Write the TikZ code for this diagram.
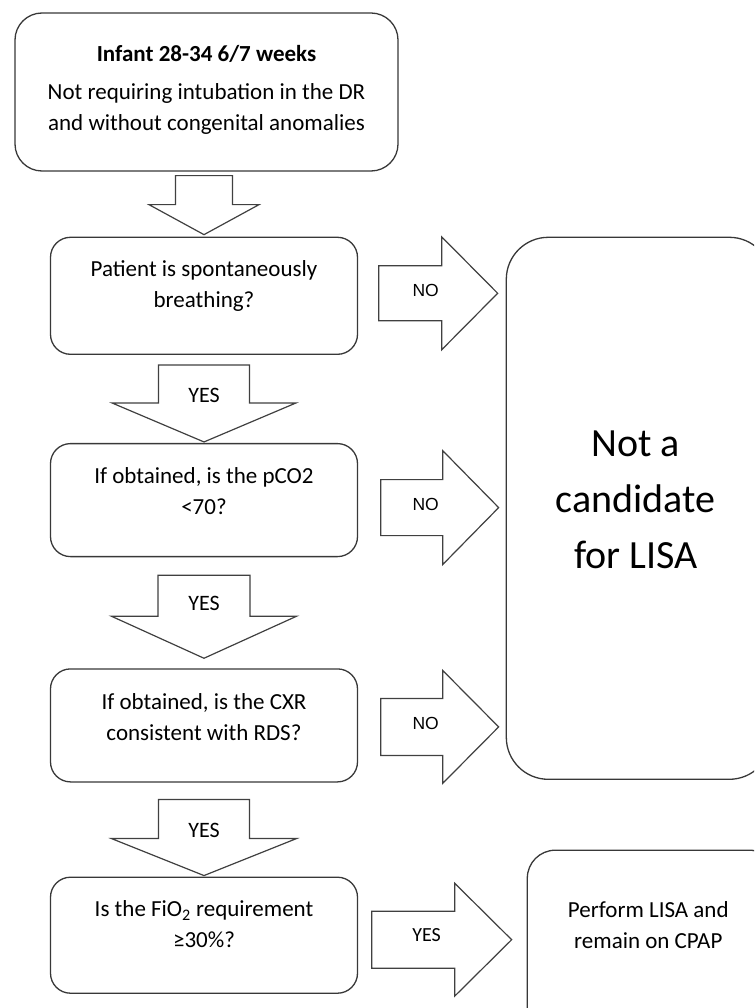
\documentclass[tikz,border=0pt]{standalone}
\usepackage{fontspec}
\setmainfont{Carlito}
\newfontfamily\arialfont{Liberation Sans}
\usetikzlibrary{positioning,calc}

\tikzstyle{startbox} = [rectangle, draw = black!78, rounded corners=27pt, minimum width=383pt, minimum height=158pt, line width=1.3pt]
\tikzstyle{querybox} = [rectangle, draw = black!78, rounded corners=20pt, minimum width=307pt, line width=1.3pt]
\tikzstyle{resultbox} = [rectangle, draw = black!78, rounded corners=42pt, line width=1.3pt]
\tikzstyle{boxtext} = [inner sep=0pt, align=center, font=\fontsize{23}{31}\selectfont]
\tikzstyle{bigtext} = [inner sep=0pt, align=center, font=\fontsize{40}{56}\selectfont]
\tikzstyle{notext} = [inner sep=0pt, font=\arialfont\fontsize{17.5}{20}\selectfont]
\tikzstyle{yestext} = [inner sep=0pt, font=\fontsize{22}{24}\selectfont]
\tikzstyle{blockarrow} = [draw = black!75, line width=1.2pt, fill=white, line join=miter]

% down block arrow: from, to, top gap, tip gap, shaft half, head half, head length
\newcommand{\downblock}[7]{%
  \draw[blockarrow] let \p1 = (#1.south), \p2 = (#2.north) in
    ({\x2-#5pt}, {\y1-#3pt}) -- ({\x2+#5pt}, {\y1-#3pt})
    -- ({\x2+#5pt}, {\y2+#4pt+#7pt}) -- ({\x2+#6pt}, {\y2+#4pt+#7pt})
    -- (\x2, {\y2+#4pt}) -- ({\x2-#6pt}, {\y2+#4pt+#7pt})
    -- ({\x2-#5pt}, {\y2+#4pt+#7pt}) -- cycle;}

% right block arrow: from, to, left gap, tip gap, dy, shaft half, head half, head length
\newcommand{\rightblock}[8]{%
  \draw[blockarrow] let \p1 = (#1.east), \p2 = (#2.west) in
    ({\x1+#3pt}, {\y1+(#5pt)+#6pt}) -- ({\x2-#4pt-#8pt}, {\y1+(#5pt)+#6pt})
    -- ({\x2-#4pt-#8pt}, {\y1+(#5pt)+#7pt}) -- ({\x2-#4pt}, {\y1+(#5pt)})
    -- ({\x2-#4pt-#8pt}, {\y1+(#5pt)-#7pt}) -- ({\x2-#4pt-#8pt}, {\y1+(#5pt)-#6pt})
    -- ({\x1+#3pt}, {\y1+(#5pt)-#6pt}) -- cycle;}

\begin{document}
\begin{tikzpicture}[x=1pt, y=1pt]
		\useasboundingbox (0,0) rectangle (754,-1008);
		\clip (0,0) rectangle (754,-1008);
		
		\node (start) [startbox] at (206.5,-92) {};
		\node (startText) [boxtext, below=33pt of start.north] {\textbf{Infant 28-34 6/7 weeks}\\[7pt]Not requiring intubation in the DR\\and without congenital anomalies};
		
		\node (q1) [querybox, minimum height=117pt, below=65pt of start, xshift=-2.5pt] {};
		\node (q1Text) [boxtext, below=24pt of q1.north] {Patient is spontaneously\\breathing?};
		
		\node (q2) [querybox, minimum height=113pt, below=88pt of q1] {};
		\node (q2Text) [boxtext, below=24pt of q2.north] {If obtained, is the pCO2\\<70?};
		
		\node (q3) [querybox, minimum height=113pt, below=111pt of q2] {};
		\node (q3Text) [boxtext, below=25pt of q3.north] {If obtained, is the CXR\\consistent with RDS?};
		
		\node (q4) [querybox, minimum height=116pt, below=94pt of q3] {};
		\node (q4Text) [boxtext, below=24pt of q4.north] {Is the FiO\textsubscript{2} requirement\\≥30\%?};
		
		\node (nocand) [resultbox, minimum width=265pt, minimum height=542pt, below right=0pt and 147.5pt of q1.north east] {};
		\node (nocandText) [bigtext, below=194pt of nocand.north, xshift=-3pt] {Not a\\candidate\\for LISA};
		
		\node (lisa) [resultbox, rounded corners=28pt, minimum width=250pt, minimum height=190pt, below right=-27pt and 168.5pt of q4.north east] {};
		\node (lisaText) [boxtext, below=52pt of lisa.north, xshift=-4pt] {Perform LISA and\\remain on CPAP};
		
		% YES arrows going down
		\downblock{start}{q1}{4}{2}{28.5}{55}{30}
		\downblock{q1}{q2}{10}{1}{45.5}{92}{39}
		\downblock{q2}{q3}{18}{10}{46}{92.5}{42}
		\downblock{q3}{q4}{17}{1}{45.5}{92.5}{37}
		
		\node (yes1) [yestext] at ($(q2.north)+(0,48pt)$) {YES};
		\node (yes2) [yestext] at ($(q3.north)+(0,65pt)$) {YES};
		\node (yes3) [yestext] at ($(q4.north)+(0,46pt)$) {YES};
		
		% NO arrows and the last YES going right
		\rightblock{q1}{nocand}{20.5}{8}{2.5}{27.5}{56.5}{56}
		\rightblock{q2}{nocand}{22.5}{7}{-7.5}{28}{57}{56}
		\rightblock{q3}{nocand}{22.5}{7}{-1.5}{28.5}{56.5}{56}
		\rightblock{q4}{lisa}{13.5}{15}{-4.5}{28.5}{56.5}{57}
		
		\node (no1) [notext] at ($(q1.east)+(67.5pt,5pt)$) {NO};
		\node (no2) [notext] at ($(q2.east)+(67.5pt,-4.5pt)$) {NO};
		\node (no3) [notext] at ($(q3.east)+(67.5pt,1.5pt)$) {NO};
		\node (yes4) [yestext, font=\fontsize{20}{22}\selectfont] at ($(q4.east)+(68.5pt,0pt)$) {YES};
		
\end{tikzpicture}
\end{document}
